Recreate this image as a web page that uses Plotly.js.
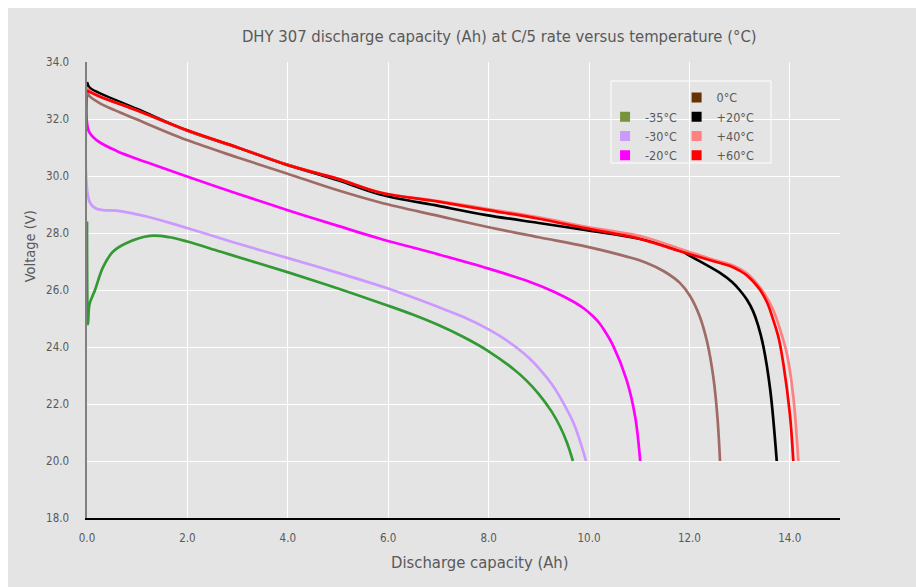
<!DOCTYPE html>
<html>
<head>
<meta charset="utf-8">
<script src="https://cdn.plot.ly/plotly-3.0.1.min.js"></script>
<style>
  html, body { margin: 0; padding: 0; background: #ffffff; }
  #chart { position: absolute; left: 8px; top: 8px; width: 908px; height: 579px; }
</style>
</head>
<body>
<div id="chart"></div>
<script>
// ---- Data ----
const seriesNames = ["-35\u00B0C", "-30\u00B0C", "-20\u00B0C", "0\u00B0C", "+20\u00B0C", "+40\u00B0C", "+60\u00B0C"];

const xM35 = [0, 0.02, 0.05, 0.16, 0.32, 0.52, 0.79, 1.25, 1.65, 2.0, 2.65, 3.3, 4.04, 5.0, 6.0, 6.5, 7.0, 7.5, 8.0, 8.5, 8.75, 9.0, 9.25, 9.42, 9.56, 9.68];
const yM35 = [28.4, 24.8, 25.5, 26.0, 26.8, 27.35, 27.65, 27.9, 27.85, 27.7, 27.35, 27.0, 26.6, 26.05, 25.45, 25.13, 24.77, 24.35, 23.85, 23.22, 22.83, 22.35, 21.75, 21.22, 20.65, 20.0];

const xM30 = [0, 0.05, 0.19, 0.66, 1.19, 1.85, 2.58, 3.0, 4.04, 5.0, 6.0, 7.0, 7.5, 8.0, 8.3, 8.6, 8.8, 9.0, 9.25, 9.42, 9.7, 9.94];
const yM30 = [32.9, 29.1, 28.85, 28.77, 28.58, 28.25, 27.86, 27.63, 27.1, 26.6, 26.05, 25.4, 25.05, 24.62, 24.3, 23.92, 23.62, 23.26, 22.72, 22.25, 21.3, 20.0];

const xM20 = [0, 0.03, 0.19, 0.59, 1.19, 1.85, 3.0, 4.0, 5.0, 5.84, 7.0, 8.0, 8.8, 9.29, 9.7, 9.9, 10.09, 10.2, 10.3, 10.48, 10.75, 10.92, 11.02];
const yM20 = [33.0, 31.6, 31.26, 30.88, 30.48, 30.07, 29.38, 28.8, 28.25, 27.8, 27.25, 26.75, 26.3, 25.95, 25.58, 25.35, 25.06, 24.85, 24.6, 24.05, 22.84, 21.55, 20.0];

const xP0 = [0, 0.05, 0.26, 1.0, 1.99, 3.0, 3.98, 4.9, 5.84, 7.0, 7.96, 9.0, 9.95, 10.75, 11.15, 11.5, 11.81, 12.01, 12.2, 12.35, 12.48, 12.56, 12.61];
const yP0 = [32.95, 32.8, 32.55, 31.98, 31.26, 30.65, 30.09, 29.55, 29.07, 28.6, 28.22, 27.85, 27.52, 27.17, 26.95, 26.65, 26.25, 25.8, 25.1, 24.2, 22.9, 21.5, 20.0];

const xP20 = [0, 0.05, 0.26, 1.0, 1.99, 3.0, 3.98, 5.0, 5.84, 7.0, 7.96, 9.0, 9.95, 11.0, 11.81, 12.01, 12.61, 12.85, 13.0, 13.15, 13.27, 13.37, 13.47, 13.61, 13.74];
const yP20 = [33.3, 33.1, 32.9, 32.35, 31.6, 31.0, 30.4, 29.85, 29.35, 28.95, 28.63, 28.35, 28.1, 27.8, 27.4, 27.2, 26.6, 26.28, 26.0, 25.65, 25.25, 24.75, 24.05, 22.5, 20.0];

const xP40 = [0, 0.05, 0.26, 1.0, 1.99, 3.0, 3.98, 5.0, 5.84, 7.0, 7.96, 9.0, 9.95, 11.0, 11.81, 12.5, 12.8, 13.0, 13.15, 13.27, 13.4, 13.5, 13.67, 13.8, 13.94, 14.07, 14.17];
const yP40 = [33.1, 33.0, 32.8, 32.3, 31.6, 31.0, 30.4, 29.9, 29.42, 29.12, 28.85, 28.55, 28.22, 27.9, 27.45, 27.05, 26.9, 26.75, 26.58, 26.38, 26.1, 25.85, 25.3, 24.65, 23.78, 22.26, 20.0];

const xP60 = [0, 0.05, 0.26, 1.0, 1.99, 3.0, 3.98, 5.0, 5.84, 7.0, 7.96, 9.0, 9.95, 11.0, 11.81, 12.5, 12.8, 13.0, 13.1, 13.2, 13.3, 13.41, 13.55, 13.67, 13.78, 13.87, 14.0, 14.07];
const yP60 = [33.0, 32.95, 32.78, 32.3, 31.61, 31.0, 30.39, 29.9, 29.42, 29.1, 28.81, 28.5, 28.16, 27.8, 27.36, 27.0, 26.85, 26.68, 26.57, 26.42, 26.24, 26.0, 25.55, 24.95, 24.3, 23.43, 21.67, 20.0];

const lineColors   = ["#339933", "#cc99ff", "#ff00ff", "#9e6b66", "#000000", "#ff8080", "#ff0000"];
const legendColors = ["#77933c", "#cc99ff", "#ff00ff", "#663300", "#000000", "#ff8080", "#ff0000"];

const xs = [xM35, xM30, xM20, xP0, xP20, xP40, xP60];
const ys = [yM35, yM30, yM20, yP0, yP20, yP40, yP60];

const xTickVals = [0, 2, 4, 6, 8, 10, 12, 14];
const yTickVals = [18, 20, 22, 24, 26, 28, 30, 32, 34];

const FONT = '"DejaVu Sans Condensed", "Liberation Sans Narrow", "Roboto Condensed", "DejaVu Sans", sans-serif';
const TXT = "#595959";

const traces = [];
for (let i = 0; i < xs.length; i++) {
  traces.push({
    type: "scatter", mode: "lines", x: xs[i], y: ys[i], name: seriesNames[i],
    line: { color: lineColors[i], width: 2.7, shape: "spline", smoothing: 1.0 },
    showlegend: false, hoverinfo: "x+y+name"
  });
}
// legend entries (square swatches), column 1: sub-zero, column 2: others
for (let i = 0; i < xs.length; i++) {
  traces.push({
    type: "scatter", mode: "markers", x: [null], y: [null], name: seriesNames[i],
    marker: { symbol: "square", size: 10, color: legendColors[i] },
    legend: i < 3 ? "legend" : "legend2", showlegend: true, hoverinfo: "skip"
  });
}

const legendCommon = {
  bgcolor: "rgba(0,0,0,0)", borderwidth: 0, xanchor: "left", yanchor: "top",
  font: { family: FONT, size: 12.5, color: TXT }, itemwidth: 30, tracegroupgap: 0
};

const layout = {
  width: 908, height: 579,
  margin: { l: 79, r: 76, t: 54, b: 69 },
  paper_bgcolor: "#e4e4e4", plot_bgcolor: "#e4e4e4",
  font: { family: FONT, color: TXT },
  title: {
    text: "DHY 307 discharge capacity (Ah) at C/5 rate versus temperature (\u00B0C)",
    font: { family: FONT, size: 16.5, color: TXT },
    xref: "container", x: 0.541, xanchor: "center",
    yref: "container", y: 0.952, yanchor: "middle"
  },
  xaxis: {
    range: [0, 15], tickvals: xTickVals, tickformat: ".1f",
    showgrid: true, gridcolor: "#ffffff", gridwidth: 1,
    showline: true, linecolor: "#000000", linewidth: 1.6,
    zeroline: false, ticks: "", ticklabelstandoff: 9,
    tickfont: { family: FONT, size: 11.5, color: TXT }, fixedrange: true
  },
  yaxis: {
    range: [18, 34], tickvals: yTickVals, tickformat: ".1f",
    showgrid: true, gridcolor: "#ffffff", gridwidth: 1,
    showline: true, linecolor: "#808080", linewidth: 1.6,
    zeroline: false, ticks: "", ticklabelstandoff: 14,
    tickfont: { family: FONT, size: 11.5, color: TXT }, fixedrange: true
  },
  legend: Object.assign({}, legendCommon, { x: 0.688, y: 0.912 }),
  legend2: Object.assign({}, legendCommon, { x: 0.783, y: 0.954 }),
  shapes: [{
    type: "rect", xref: "paper", yref: "paper",
    x0: 0.6959, x1: 0.9084, y0: 0.7785, y1: 0.9583,
    line: { color: "#ffffff", width: 1 }, fillcolor: "rgba(0,0,0,0)", layer: "below"
  }],
  annotations: [
    { text: "Discharge capacity (Ah)", xref: "paper", yref: "paper", x: 0.522, y: -0.0965,
      xanchor: "center", yanchor: "middle", showarrow: false,
      font: { family: FONT, size: 16.5, color: TXT } },
    { text: "Voltage (V)", xref: "paper", yref: "paper", x: -0.0757, y: 0.596,
      xanchor: "center", yanchor: "middle", showarrow: false, textangle: -90,
      font: { family: FONT, size: 14.5, color: TXT } }
  ]
};

Plotly.newPlot("chart", traces, layout, { displayModeBar: false, staticPlot: true });
</script>
</body>
</html>
